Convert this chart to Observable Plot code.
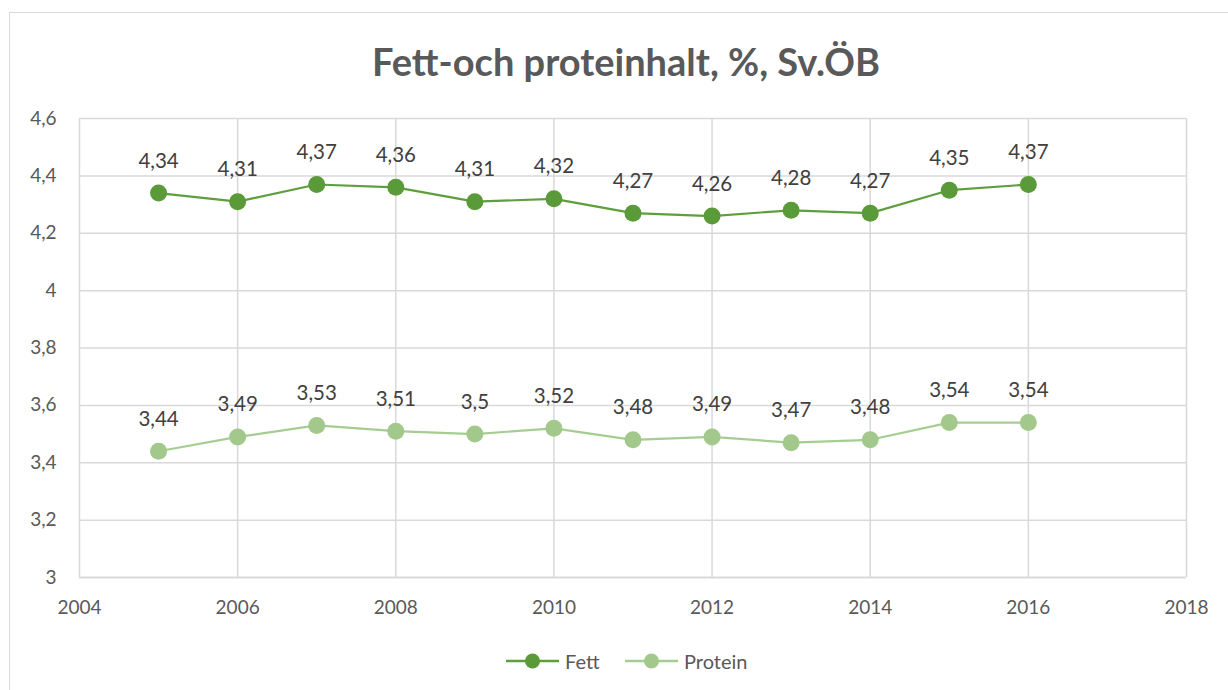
<!DOCTYPE html>
<html><head><meta charset="utf-8">
<script src="https://cdn.jsdelivr.net/npm/d3@7"></script>
<script src="https://cdn.jsdelivr.net/npm/@observablehq/plot@0.6"></script>
<style>
body{margin:0;background:#fff;font-family:Lato,"Open Sans",sans-serif;overflow:hidden;}
#wrap{position:relative;width:1228px;height:690px;}
#frame{position:absolute;left:9px;top:12px;width:1240px;height:700px;border:1.5px solid #d9d9d9;box-sizing:border-box;}
#title{position:absolute;left:0;width:1252px;top:38px;text-align:center;font-size:38px;font-weight:bold;color:#595959;}
#chart{position:absolute;left:0;top:0;}
#legend{position:absolute;top:648px;left:0;width:1228px;height:26px;}
.lg{position:absolute;top:0;font-size:20px;color:#595959;line-height:26px;}
</style></head>
<body><div id="wrap"><div id="frame"></div><div id="title">Fett-och proteinhalt, %, Sv.ÖB</div><div id="chart"></div><div id="legend"></div></div>
<script>
const years = [2005,2006,2007,2008,2009,2010,2011,2012,2013,2014,2015,2016];
const fett = [4.34,4.31,4.37,4.36,4.31,4.32,4.27,4.26,4.28,4.27,4.35,4.37];
const protein = [3.44,3.49,3.53,3.51,3.5,3.52,3.48,3.49,3.47,3.48,3.54,3.54];
const seriesNames = ["Fett","Protein"];
const colors = {Fett:{line:"#5f9e3d",dot:"#5b9a38"}, Protein:{line:"#a6cd91",dot:"#a2c98b"}};
const xTicks = [2004,2006,2008,2010,2012,2014,2016,2018];
const yTicks = [3,3.2,3.4,3.6,3.8,4,4.2,4.4,4.6];

const fmt = d => String(+d.toFixed(2)).replace(".", ",");
const data = [];
years.forEach((y,i)=>{ data.push({year:y, value:fett[i], s:"Fett"}); data.push({year:y, value:protein[i], s:"Protein"}); });

const marks = [
  Plot.ruleY(yTicks.slice(1), {stroke:"#d9d9d9", strokeWidth:1.5}),
  Plot.ruleX(xTicks, {stroke:"#d9d9d9", strokeWidth:1.5}),
  Plot.ruleY([3], {stroke:"#d9d9d9", strokeWidth:2}),
  Plot.axisY({ticks:yTicks, tickFormat:fmt, tickSize:0, tickPadding:23, fontSize:19, fill:"#595959", label:null}),
  Plot.axisX({ticks:xTicks, tickFormat:d=>String(d), tickSize:0, tickPadding:23, fontSize:19, fill:"#595959", label:null}),
];
for (const s of seriesNames) {
  const d = data.filter(r=>r.s===s);
  marks.push(Plot.line(d, {x:"year", y:"value", stroke:colors[s].line, strokeWidth:2.2}));
  marks.push(Plot.dot(d, {x:"year", y:"value", r:8.5, fill:colors[s].dot, stroke:"none", style:"filter: drop-shadow(1px 3px 2px rgba(0,0,0,0.35))"}));
  marks.push(Plot.text(d, {x:"year", y:"value", text:r=>fmt(r.value), dy:-32, fontSize:20.5, fill:"#404040"}));
}

const plot = Plot.plot({
  width:1228, height:690,
  marginTop:118, marginBottom:113, marginLeft:79, marginRight:42,
  x:{domain:[2004,2018]},
  y:{domain:[3,4.6]},
  style:{fontFamily:"Lato, 'Open Sans', sans-serif", background:"transparent", overflow:"visible"},
  marks
});
document.getElementById("chart").appendChild(plot);

// legend
const lg = document.getElementById("legend");
const items = [{name:"Fett", x0:506},{name:"Protein", x0:625}];
for (const it of items) {
  const c = colors[it.name];
  const svg = document.createElementNS("http://www.w3.org/2000/svg","svg");
  svg.setAttribute("width","54"); svg.setAttribute("height","26");
  svg.style.position="absolute"; svg.style.left=it.x0+"px"; svg.style.top="0px";
  svg.innerHTML = `<line x1="0" x2="53" y1="13" y2="13" stroke="${c.line}" stroke-width="2.5"/><circle cx="26.5" cy="13" r="7.5" fill="${c.dot}"/>`;
  lg.appendChild(svg);
  const t = document.createElement("div");
  t.className="lg"; t.style.left=(it.x0+59)+"px"; t.textContent=it.name;
  lg.appendChild(t);
}
</script></body></html>
